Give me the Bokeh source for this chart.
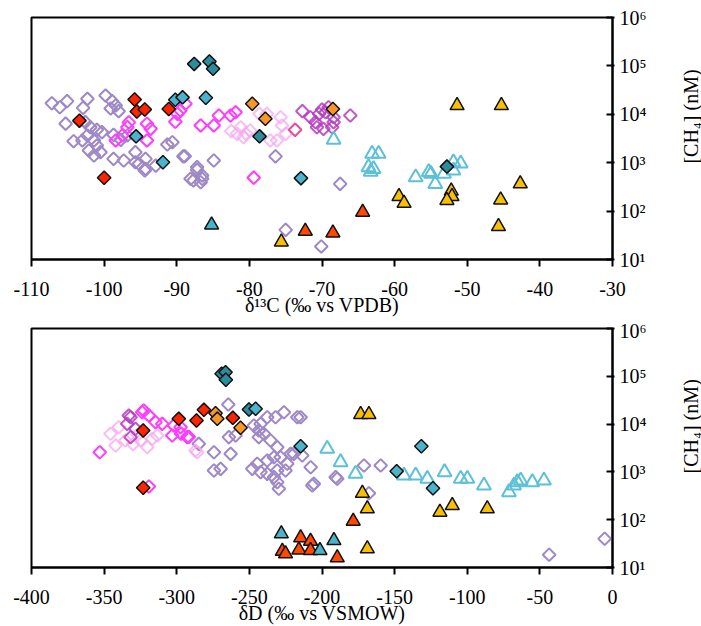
import math
from bokeh.plotting import figure
from bokeh.layouts import column, row
from bokeh.models import FixedTicker, Range1d
from bokeh.core.properties import value
from bokeh.embed import file_html
from bokeh.resources import INLINE

# ---------------- tick definitions ----------------
Y_TICKS = [10, 100, 1000, 10000, 100000, 1000000]
Y_LABELS = ["10¹", "10²", "10³", "10⁴", "10⁵", "10⁶"]
C_TICKS = [-110, -100, -90, -80, -70, -60, -50, -40, -30]
D_TICKS = [-400, -350, -300, -250, -200, -150, -100, -50, 0]
C_LABEL = "δ¹³C (‰ vs VPDB)"
D_LABEL = "δD (‰ vs VSMOW)"
Y_LABEL = "[CH₄] (nM)"

# ---------------- top panel: d13C vs [CH4] ----------------
lav_c_x = [-107.2, -105.1, -106.1, -102.3, -102.9, -99.8, -98.9, -98.4, -98.0, -99.1,
           -105.3, -104.2, -102.6, -101.9, -101.0, -100.3, -102.3, -103.0, -101.4, -101.0,
           -102.1, -101.4, -100.5, -98.7, -97.7, -96.8, -98.7, -97.3, -95.7, -95.2,
           -94.3, -94.3, -92.9, -91.3, -90.6, -88.9, -84.9, -87.2, -87.7, -86.5,
           -95.7, -94.4, -88.1, -86.7, -86.5, -87.2, -76.4, -89.1, -67.5, -75.0, -70.1]
lav_c_y = [16900, 18700, 14000, 20900, 13600, 24400, 18700, 15200, 11600, 13200,
           6400, 2780, 6900, 5400, 4780, 4270, 3650, 2880, 2880, 2260,
           1790, 1410, 1650, 3770, 2970, 3650, 1200, 1110, 1650, 950,
           1200, 750, 870, 2380, 2650, 1360, 1110, 810, 430, 465,
           1020, 690, 465, 395, 545, 710, 1350, 1350, 365, 41, 18.6]

mag_c_x = [-98.4, -97.5, -96.8, -96.6, -93.6, -94.1, -94.1, -89.9, -88.8, -89.5,
           -90.2, -86.7, -84.9, -84.2, -82.6, -81.9, -79.4]
mag_c_y = [2880, 3650, 5420, 6800, 5010, 2880, 6370, 10200, 16500, 12000,
           7000, 5880, 5880, 9450, 9450, 11000, 490]

pink_c_x = [-81.2, -81.7, -80.8, -79.9, -77.6, -75.7, -75.5, -75.0, -76.2, -77.1,
            -78.6, -82.5, -80.5]
pink_c_y = [5400, 3950, 3370, 4620, 10200, 8700, 5880, 3950, 2880, 2880,
            10200, 4500, 4000]

pur_c_x = [-72.7, -71.6, -70.4, -69.5, -69.1, -68.4, -66.1, -70.7, -69.8, -68.6, -68.4, -70.9, -70.0]
pur_c_y = [11600, 8700, 10200, 11000, 14000, 8700, 9450, 5400, 5000, 5400, 6870, 6870, 12500]

rose_c_x = [-73.7]
rose_c_y = [4780]

cyt_c_x = [-68.4, -63.1, -62.2, -63.6, -62.9, -63.3, -57.1, -55.3, -55.0, -54.4,
           -53.2, -51.9, -51.9, -50.9]
cyt_c_y = [3000, 1530, 1530, 810, 740, 650, 500, 640, 590, 365,
           590, 690, 1020, 960]

yel_c_x = [-51.4, -45.3, -59.4, -58.7, -52.2, -52.1, -52.8, -45.4, -45.7, -42.7, -75.6]
yel_c_y = [15200, 15200, 200, 145, 260, 200, 166, 170, 48, 366, 23]

rtri_c_x = [-72.3, -68.5, -64.4]
rtri_c_y = [38.5, 35.5, 95]

ttri_c_x = [-85.2]
ttri_c_y = [52]

red_c_x = [-95.8, -95.5, -94.4, -91.1, -103.4, -100.0]
red_c_y = [20200, 11400, 12600, 12900, 7400, 490]

org_c_x = [-79.6, -77.8, -68.5]
org_c_y = [16500, 8070, 12900]

dteal_c_x = [-87.6, -85.5, -85.0, -78.6, -52.8]
dteal_c_y = [110000, 123000, 87000, 3500, 830]

lteal_c_x = [-90.2, -89.2, -86.0, -95.6, -91.9, -72.9]
lteal_c_y = [20000, 22400, 22000, 3500, 1020, 480]

# ---------------- bottom panel: dD vs [CH4] ----------------
lav_d_x = [-264.5, -259.5, -264.1, -246.9, -242.3, -237.7, -232.0, -226.2, -217.0, -240.0,
           -235.4, -230.8, -228.5, -223.9, -219.4, -207.8, -274.4, -284.8, -262.9, -243.5,
           -243.5, -274.4, -269.8, -248.0, -244.6, -242.3, -237.7, -233.1, -230.8, -225.1,
           -229.7, -230.8, -206.7, -221.6, -189.5, -237.7, -233.1, -205.6, -190.6, -171.1,
           -159.6, -167.7, -43.6, -5.4, -214.7, -213.6]
lav_d_y = [25700, 5780, 5330, 9350, 10100, 13900, 13900, 17700, 13900, 6270,
           4540, 3290, 2030, 1480, 2390, 1250, 2580, 3870, 2390, 7350,
           5330, 1070, 1160, 1160, 1480, 990, 910, 775, 1070, 1070,
           443, 610, 520, 2390, 720, 1730, 2030, 564, 775, 1360,
           1360, 358, 18.5, 40, 13900, 2200]

mag_d_x = [-353.0, -323.8, -319.2, -314.6, -310.0, -302.0, -303.1, -297.4, -292.8, -322.7,
           -297.0, -291.7, -319.2]
mag_d_y = [2580, 17700, 15100, 11000, 10100, 9350, 5780, 8600, 5330, 19300,
           6300, 5400, 495]

pink_d_x = [-339.9, -345.6, -342.1, -335.3, -324.9, -320.3, -316.9, -313.4, -287.1, -285.9,
            -330.0, -327.0]
pink_d_y = [8610, 6270, 3560, 4540, 4540, 3290, 4930, 5780, 2800, 2580,
            3800, 6000]

pur_d_x = [-331.8, -334.1, -331.8, -328.4, -333.0]
pur_d_y = [13900, 10100, 5320, 7980, 15100]

cyt_d_x = [-196.4, -187.2, -176.9, -143.6, -135.5, -127.5, -115.6, -104.5, -99.9, -88.5,
           -71.3, -65.5, -63.2, -55.2, -47.2, -67.8]
cyt_d_y = [3040, 1600, 912, 840, 840, 718, 986, 718, 718, 519,
           376, 610, 661, 610, 661, 519]

yel_d_x = [-173.4, -167.7, -172.2, -168.8, -168.8, -118.8, -110.3, -86.2]
yel_d_y = [15900, 15900, 358, 169, 24.6, 144, 198, 169]

rtri_d_x = [-178.5, -189.5, -214.7, -207.9, -215.9, -207.9, -227.3, -225.1]
rtri_d_y = [93, 16, 41.8, 35.5, 23.4, 22.7, 21.9, 19.4]

ttri_d_x = [-228.0, -201.4, -191.8]
ttri_d_y = [50.7, 22.7, 36.7]

red_d_x = [-323.1, -298.6, -286.4, -281.3, -261.4, -323.1]
red_d_y = [7350, 12900, 11900, 19900, 13500, 465]

org_d_x = [-273.3, -272.1, -256.1]
org_d_y = [16900, 12900, 8370]

dteal_d_x = [-269.1, -266.4, -266.2, -250.3]
dteal_d_y = [113000, 122000, 84500, 20200]

lteal_d_x = [-245.7, -214.7, -148.6, -123.6, -131.6]
lteal_d_y = [20900, 3450, 1035, 456, 3450]

# ---------------- styles ----------------
FONT = "Liberation Serif"
LAV = "#9f88c6"
MAG = "#ff3cff"
PINK = "#f6a8f0"
PUR = "#b43cbe"
ROSE = "#e0509c"
CYAN = "#5cc0d8"
YEL = "#f8c000"
RTRI = "#ff4800"
TTRI = "#48b4cc"
RED = "#ff2400"
ORG = "#f8962a"
DTEAL = "#2c8c9e"
LTEAL = "#4ab4cc"
Q = math.pi / 4


def open_diamonds(p, x, y, color, alpha=1.0):
    p.scatter(x, y, marker="square", angle=Q, size=9, fill_color=None,
              line_color=color, line_width=2, line_alpha=alpha)


def filled_diamonds(p, x, y, color):
    p.scatter(x, y, marker="square", angle=Q, size=9.5, fill_color=color,
              line_color="#111111", line_width=1.5)


def open_tri(p, x, y, color):
    p.scatter(x, y, marker="triangle", size=14, fill_color=None,
              line_color=color, line_width=2)


def filled_tri(p, x, y, color):
    p.scatter(x, y, marker="triangle", size=14, fill_color=color,
              line_color="#111111", line_width=1.5)


def make_fig(xmin, xmax, xticks, xlabel, frame_h, top_b, bottom_b):
    p = figure(frame_width=581, frame_height=frame_h,
               x_range=Range1d(xmin, xmax), y_range=Range1d(10, 1e6),
               y_axis_type="log", y_axis_location="right",
               output_backend="svg", toolbar_location=None,
               min_border_left=31, min_border_right=50,
               min_border_top=top_b, min_border_bottom=bottom_b)
    p.grid.visible = False
    p.outline_line_color = "black"
    p.outline_line_width = 2
    p.outline_line_alpha = 1
    p.background_fill_color = "white"
    p.border_fill_color = "white"

    xa = p.xaxis[0]
    xa.ticker = FixedTicker(ticks=xticks)
    xa.major_label_overrides = {t: str(t) for t in xticks}
    xa.axis_line_width = 2
    xa.axis_line_color = "black"
    xa.major_tick_line_width = 2
    xa.major_tick_line_color = "black"
    xa.major_tick_in = 0
    xa.major_tick_out = 7
    xa.minor_tick_line_color = None
    xa.major_label_text_font = FONT
    xa.major_label_text_font_size = "20px"
    xa.major_label_text_color = "black"
    xa.major_label_standoff = 15
    xa.axis_label = xlabel
    xa.axis_label_text_font = FONT
    xa.axis_label_text_font_size = "20px"
    xa.axis_label_text_font_style = "normal"
    xa.axis_label_text_color = "black"
    xa.axis_label_standoff = -5

    ya = p.yaxis[0]
    ya.ticker = FixedTicker(ticks=Y_TICKS)
    ya.major_label_overrides = dict(zip(Y_TICKS, Y_LABELS))
    ya.axis_line_width = 2
    ya.axis_line_color = "black"
    ya.major_tick_line_width = 2
    ya.major_tick_line_color = "black"
    ya.major_tick_in = 6
    ya.major_tick_out = 2
    ya.minor_tick_line_color = None
    ya.major_label_text_font = FONT
    ya.major_label_text_font_size = "20px"
    ya.major_label_text_color = "black"
    ya.major_label_standoff = 5
    return p


def make_ylabel(frame_h, top_b, bottom_b):
    q = figure(frame_width=39, frame_height=frame_h,
               x_range=Range1d(0, 39), y_range=Range1d(10, 1e6),
               y_axis_type="log", x_axis_location=None, y_axis_location=None,
               output_backend="svg", toolbar_location=None,
               min_border_left=0, min_border_right=0,
               min_border_top=top_b, min_border_bottom=bottom_b)
    q.grid.visible = False
    q.outline_line_color = None
    q.background_fill_color = "white"
    q.border_fill_color = "white"
    q.text(x=[28], y=[9000], text=[Y_LABEL], angle=math.pi / 2,
           text_align="center", text_baseline="middle",
           text_font=value(FONT), text_font_size="20px", text_color="black")
    return q


p1 = make_fig(-110, -30, C_TICKS, C_LABEL, 242, 17, 60)
open_diamonds(p1, lav_c_x, lav_c_y, LAV)
open_diamonds(p1, mag_c_x, mag_c_y, MAG)
open_diamonds(p1, pink_c_x, pink_c_y, PINK, 0.75)
open_diamonds(p1, pur_c_x, pur_c_y, PUR, 0.85)
open_diamonds(p1, rose_c_x, rose_c_y, ROSE)
open_tri(p1, cyt_c_x, cyt_c_y, CYAN)
filled_tri(p1, yel_c_x, yel_c_y, YEL)
filled_tri(p1, rtri_c_x, rtri_c_y, RTRI)
filled_tri(p1, ttri_c_x, ttri_c_y, TTRI)
filled_diamonds(p1, red_c_x, red_c_y, RED)
filled_diamonds(p1, org_c_x, org_c_y, ORG)
filled_diamonds(p1, dteal_c_x, dteal_c_y, DTEAL)
filled_diamonds(p1, lteal_c_x, lteal_c_y, LTEAL)
l1 = make_ylabel(242, 17, 60)

p2 = make_fig(-400, 0, D_TICKS, D_LABEL, 239, 9, 58)
open_diamonds(p2, lav_d_x, lav_d_y, LAV)
open_diamonds(p2, mag_d_x, mag_d_y, MAG)
open_diamonds(p2, pink_d_x, pink_d_y, PINK, 0.75)
open_diamonds(p2, pur_d_x, pur_d_y, PUR, 0.85)
open_tri(p2, cyt_d_x, cyt_d_y, CYAN)
filled_tri(p2, yel_d_x, yel_d_y, YEL)
filled_tri(p2, rtri_d_x, rtri_d_y, RTRI)
filled_tri(p2, ttri_d_x, ttri_d_y, TTRI)
filled_diamonds(p2, red_d_x, red_d_y, RED)
filled_diamonds(p2, org_d_x, org_d_y, ORG)
filled_diamonds(p2, dteal_d_x, dteal_d_y, DTEAL)
filled_diamonds(p2, lteal_d_x, lteal_d_y, LTEAL)
l2 = make_ylabel(239, 9, 58)

layout = column(row(p1, l1, spacing=0), row(p2, l2, spacing=0), spacing=0)
open("out.html", "w").write(file_html(layout, INLINE))
